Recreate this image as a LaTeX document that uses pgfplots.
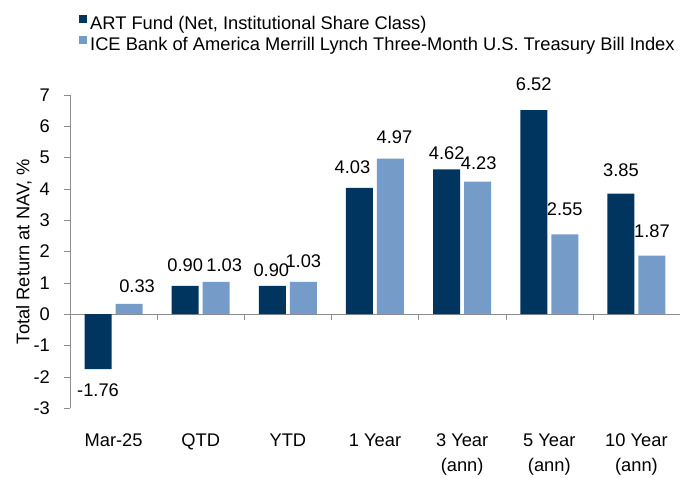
\documentclass[border=0pt]{standalone}
\usepackage{fontspec}
\setmainfont{Liberation Sans}
\usepackage{pgfplots}
\pgfplotsset{compat=1.18}
\usepackage{pgfplotstable}

\definecolor{artblue}{RGB}{0,53,96}
\definecolor{iceblue}{RGB}{117,155,200}
\definecolor{axgray}{RGB}{140,140,140}
\newcommand\cf{\fontsize{18.3}{24.5}\selectfont}

% x = category, dx/dy = label offsets in pt
\pgfplotstableread{
x y dx dy
0 -1.76 0 -14
1 0.90 0 14
2 0.90 -1 9
3 4.03 -7 14
4 4.62 0 10
5 6.52 0 19
6 3.85 0 17
}\artdata
\pgfplotstableread{
x y dx dy
0 0.33 8 11
1 1.03 8 10
2 1.03 0 14
3 4.97 4 15
4 4.23 1 12
5 2.55 0 18
6 1.87 0 18
}\icedata

\begin{document}
\begin{tikzpicture}
\begin{axis}[
name=ax, at={(0,0)}, anchor=south west,
scale only axis, width=610pt, height=313pt,
xmin=-0.5, xmax=6.5, ymin=-3, ymax=7,
axis x line=bottom, axis y line=left,
x axis line style={draw=none},
y axis line style={axgray, -},
ytick={-3,...,7},
ytick style={axgray},
tick align=outside, major tick length=6pt,
xtick={0,...,6},
xticklabels={Mar-25, QTD, YTD, 1 Year, 3 Year\\(ann), 5 Year\\(ann), 10 Year\\(ann)},
xtick style={draw=none},
xticklabel style={align=center, inner sep=0pt, yshift=-20pt},
yticklabel style={inner sep=0pt, xshift=-14pt},
tick label style={font=\cf},
/pgf/number format/assume math mode=true,
extra y ticks={0}, extra y tick labels={},
extra y tick style={grid=major, major grid style={axgray}},
every axis y label/.style={at={(axis description cs:-0.0754,0.5)}, rotate=90, anchor=center, font=\cf},
ylabel={Total Return at NAV, \%},
legend style={draw=none, fill=none, inner sep=0pt, at={(axis description cs:0,1)}, anchor=north west,
  xshift=9pt, yshift=80pt, font=\cf, row sep=2pt, column sep=3pt,
  nodes={inner sep=0pt, text height=13pt, text depth=4pt}},
legend cell align=left,
legend image code/.code={\fill[#1] (0pt,2pt) rectangle (8pt,10pt);},
nodes near coords={\pgfmathprintnumber[fixed, fixed zerofill, precision=2, assume math mode=true]{\pgfplotspointmeta}},
nodes near coords align=vertical,
every node near coord/.append style={font=\cf, text=black, inner sep=0pt, xshift=\dx pt, yshift=\dy pt},
visualization depends on={\thisrow{dx} \as \dx},
visualization depends on={\thisrow{dy} \as \dy},
]
\addplot[ybar, bar width=27pt, bar shift=-15.5pt, fill=artblue, draw=none,
  every node near coord/.append style={xshift=-15.5pt}] table[x=x, y=y] {\artdata};
\addlegendentry{ART Fund (Net, Institutional Share Class)}
\addplot[ybar, bar width=27pt, bar shift=15.5pt, fill=iceblue, draw=none,
  every node near coord/.append style={xshift=15.5pt}] table[x=x, y=y] {\icedata};
\addlegendentry{ICE Bank of America Merrill Lynch Three-Month U.S. Treasury Bill Index}
\pgfplotsinvokeforeach{0.5,1.5,2.5,3.5,4.5,5.5}{\draw[axgray] (axis cs:#1,0) -- ++(0pt,-6pt);}
\end{axis}
\path (ax.south west) ++(-70pt,-70pt) rectangle ++(694pt,478pt);
\end{tikzpicture}
\end{document}
